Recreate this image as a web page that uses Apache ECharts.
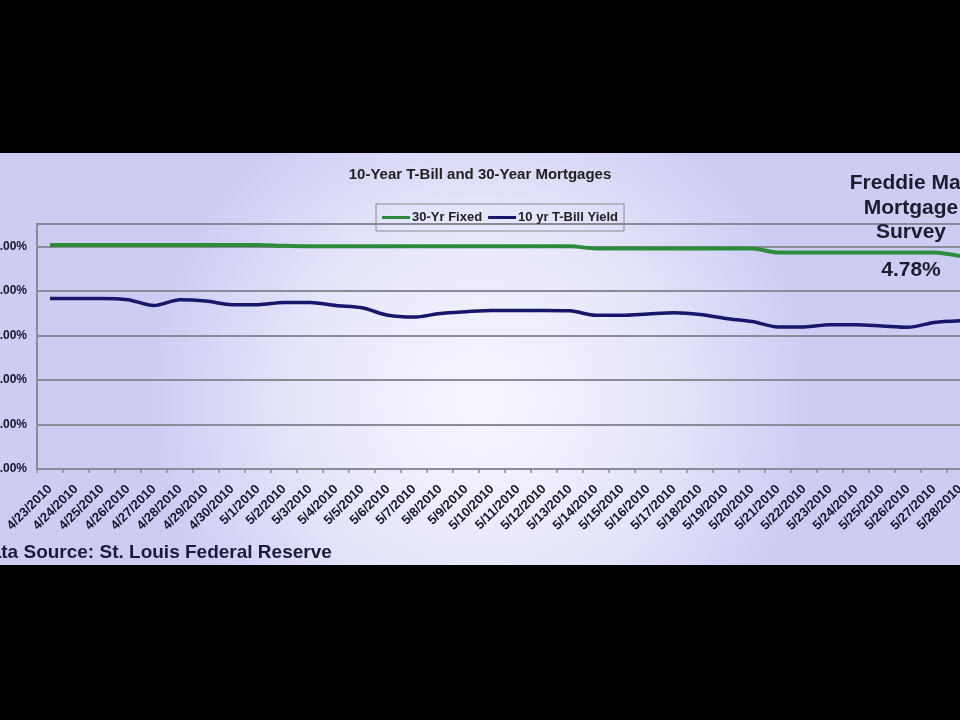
<!DOCTYPE html>
<html><head><meta charset="utf-8">
<script src="https://cdn.jsdelivr.net/npm/echarts@6/dist/echarts.min.js"></script>
<style>html,body{margin:0;padding:0;background:#000}#c{width:960px;height:720px}</style>
</head><body><div id="c"></div>
<script>
const categories = ['4/23/2010','4/24/2010','4/25/2010','4/26/2010','4/27/2010','4/28/2010','4/29/2010','4/30/2010',
  '5/1/2010','5/2/2010','5/3/2010','5/4/2010','5/5/2010','5/6/2010','5/7/2010','5/8/2010','5/9/2010','5/10/2010',
  '5/11/2010','5/12/2010','5/13/2010','5/14/2010','5/15/2010','5/16/2010','5/17/2010','5/18/2010','5/19/2010',
  '5/20/2010','5/21/2010','5/22/2010','5/23/2010','5/24/2010','5/25/2010','5/26/2010','5/27/2010','5/28/2010'];
const fixed30 = [5.03,5.03,5.03,5.03,5.03,5.03,5.03,5.03,5.03,5.01,5.00,5.00,5.00,5.00,5.00,5.00,5.00,5.00,
  5.00,5.00,5.00,4.95,4.95,4.95,4.95,4.95,4.95,4.95,4.86,4.86,4.86,4.86,4.86,4.86,4.86,4.78];
const tbill10 = [3.83,3.83,3.83,3.80,3.67,3.80,3.77,3.69,3.69,3.74,3.74,3.67,3.62,3.45,3.41,3.49,3.53,3.56,
  3.56,3.56,3.55,3.45,3.45,3.48,3.51,3.47,3.38,3.31,3.19,3.19,3.24,3.24,3.21,3.18,3.29,3.33];
const yTickValues = [0,1,2,3,4,5];
const seriesNames = ['30-Yr Fixed','10 yr T-Bill Yield'];
const chartTitle = '10-Year T-Bill and 30-Year Mortgages';
const sourceText = 'Data Source: St. Louis Federal Reserve';
const surveyText = 'Freddie Mac\nMortgage\nSurvey';
const surveyValue = '4.78%';

const chart = echarts.init(document.getElementById('c'));
chart.setOption({
  animation: false,
  backgroundColor: '#000',
  title: {
    text: chartTitle, left: 'center', top: 167, padding: 0,
    textStyle: {fontFamily: 'Liberation Sans, Arial', fontSize: 15, fontWeight: 'bold', color: '#222'}
  },
  legend: {
    left: 376, top: 204, padding: [7, 6, 7, 6],
    borderColor: '#8a8a99', borderWidth: 1,
    icon: 'rect', itemWidth: 28, itemHeight: 3, itemGap: 6,
    textStyle: {fontFamily: 'Liberation Sans, Arial', fontSize: 13, fontWeight: 'bold', color: '#222', padding: [0,0,0,-3]},
    data: seriesNames
  },
  grid: {left: 37, top: 224, width: 936, height: 245, outerBoundsMode: 'none', containLabel: false,
    show: true, borderColor: '#8a8a99', borderWidth: 2, backgroundColor: 'transparent'},
  xAxis: {
    type: 'category', data: categories, boundaryGap: true,
    axisLine: {lineStyle: {color: '#8a8a99', width: 2}},
    axisTick: {show: true, length: 4, lineStyle: {color: '#8a8a99', width: 1.5}},
    axisLabel: {interval: 0, rotate: 45, margin: 18, fontFamily: 'Liberation Sans, Arial', fontSize: 13, fontWeight: 'bold', color: '#15152a'}
  },
  yAxis: {
    type: 'value', min: 0, max: 5.5, interval: 1,
    axisLine: {show: true, lineStyle: {color: '#8a8a99', width: 2}},
    axisTick: {show: false},
    splitLine: {lineStyle: {color: '#8a8a99', width: 2}},
    axisLabel: {margin: 10, fontFamily: 'Liberation Sans, Arial', fontSize: 12, fontWeight: 'bold', color: '#15152a',
      formatter: v => yTickValues.indexOf(v) >= 0 ? v.toFixed(2) + '%' : ''}
  },
  graphic: {elements: [
    {type: 'rect', z: -100, silent: true, shape: {x: 0, y: 153, width: 960, height: 412},
      style: {fill: new echarts.graphic.RadialGradient(0.5, 0.6, 0.8, [
        {offset: 0, color: '#f7f7ff'}, {offset: 0.55, color: '#e6e6fb'}, {offset: 1, color: '#cdcdf4'}])}},
    {type: 'text', x: 911, y: 171, z: 10, style: {text: surveyText, textAlign: 'center', textVerticalAlign: 'top',
      font: 'bold 21px "Liberation Sans", Arial', lineHeight: 24.5, fill: '#1c1c2c'}},
    {type: 'text', x: 911, y: 270, z: 10, style: {text: surveyValue, textAlign: 'center', textVerticalAlign: 'middle',
      font: 'bold 21px "Liberation Sans", Arial', fill: '#1c1c2c'}},
    {type: 'text', x: -23, y: 553, z: 10, style: {text: sourceText, textAlign: 'left', textVerticalAlign: 'middle',
      font: 'bold 19px "Liberation Sans", Arial', fill: '#1c1c3a'}}
  ]},
  series: [
    {name: seriesNames[0], type: 'line', data: fixed30, symbol: 'none', smooth: 0.3, z: 3,
      lineStyle: {color: '#2e8b3c', width: 4}, itemStyle: {color: '#2e8b3c'}},
    {name: seriesNames[1], type: 'line', data: tbill10, symbol: 'none', smooth: 0.3, z: 3,
      lineStyle: {color: '#16166a', width: 3.5}, itemStyle: {color: '#16166a'}}
  ]
});
</script></body></html>
